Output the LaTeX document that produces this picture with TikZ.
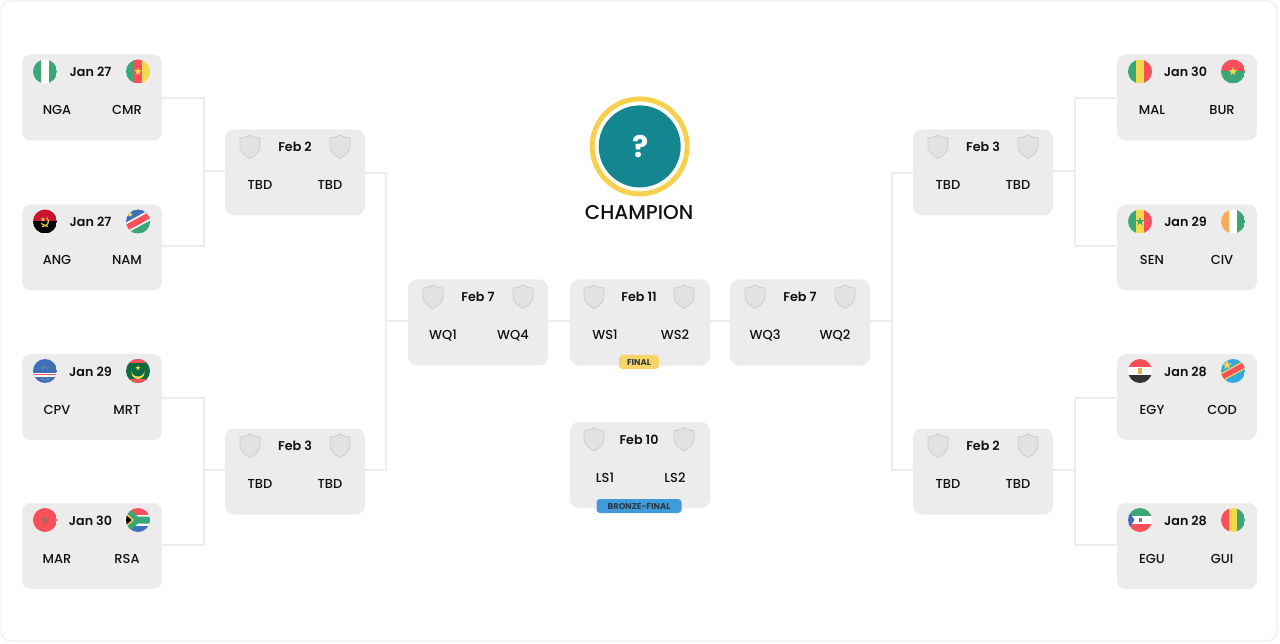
\documentclass[tikz,border=0pt]{standalone}
\usepackage{fontspec}
\setmainfont{Poppins}
\newfontfamily\teamfont{Poppins Medium}
\newfontfamily\datefont{Poppins SemiBold}
\usetikzlibrary{shapes.geometric}
\definecolor{cardgray}{HTML}{ECECEC}
\definecolor{linkgray}{HTML}{EDEDED}
\definecolor{inkblack}{HTML}{111111}
\definecolor{shieldfill}{HTML}{E2E2E2}
\definecolor{shieldline}{HTML}{CDCDCD}
\definecolor{flaggreen}{HTML}{3BA776}
\definecolor{flagred}{HTML}{F9505A}
\definecolor{flagyellow}{HTML}{F2D94E}
\definecolor{flagorange}{HTML}{FBAA55}
\definecolor{flagblue}{HTML}{3F6FB8}
\definecolor{flagsky}{HTML}{36A9E1}
\definecolor{flagdark}{HTML}{0F6B3E}
\definecolor{angred}{HTML}{C9142B}
\definecolor{teal}{HTML}{14868F}
\definecolor{ringyellow}{HTML}{F8CF4E}
\definecolor{finalyellow}{HTML}{F7D469}
\definecolor{bronzeblue}{HTML}{3F9BDC}
\definecolor{badgeink}{HTML}{2B3A45}
\definecolor{marstarcol}{HTML}{A8685A}
\tikzset{
  matchcard/.style={fill=cardgray,rounded corners=9pt,minimum width=140pt,minimum height=86pt,inner sep=0pt},
  datelabel/.style={font=\fontsize{12.7}{15}\datefont,text=inkblack,inner sep=0pt,text height=9pt,text depth=0pt},
  teamlabel/.style={font=\fontsize{13}{15}\teamfont,text=inkblack,inner sep=0pt,text height=9pt,text depth=0pt},
  badge/.style={rounded corners=3.5pt,inner sep=0pt,minimum height=14pt,text=badgeink,font=\fontsize{8.5}{10}\selectfont\bfseries,text height=6.5pt,text depth=0pt},
  link/.style={draw=linkgray,line width=1.5pt},
  flagstar/.style={star,star points=5,star point ratio=2.5,inner sep=0pt,minimum size=#1},
  flagstar/.default=8pt
}
\begin{document}
\begin{tikzpicture}[x=1pt,y=-1pt]
  \useasboundingbox (0,0) rectangle (1280,644);
  \draw [cardgray,line width=1pt,rounded corners=10pt] (1,1) rectangle (1277,641);
  % one card with its three labels
  \def\datex{-1.5}
  \def\matchcard#1#2#3#4#5#6{
    \begin{scope}[shift={(#2,#3)}]
      \node [matchcard] (#1) at (0,0) {};
      \node [datelabel] (#1date) at (\datex,-25.5) {#4};
      \node [teamlabel] (#1left) at (-35,12.5) {#5};
      \node [teamlabel] (#1right) at (35,12.5) {#6};
    \end{scope}}
  \def\flagpair#1#2#3#4{
    \begin{scope}[shift={(#1-47,#2-26)}]
      \clip (0,0) circle (12); #3
    \end{scope}
    \begin{scope}[shift={(#1+46,#2-26)}]
      \clip (0,0) circle (12); #4
    \end{scope}}
  \def\shieldmark{
    \draw [shieldline,fill=shieldfill,line width=.8pt] (0,-11.5) .. controls (3,-9.5) and (7,-8.5) .. (10,-8.5)
      -- (10,0) .. controls (10,5) and (5,9.5) .. (0,12) .. controls (-5,9.5) and (-10,5) .. (-10,0)
      -- (-10,-8.5) .. controls (-7,-8.5) and (-3,-9.5) .. (0,-11.5) -- cycle;}
  \def\shieldpair#1#2{
    \begin{scope}[shift={(#1-45,#2-26)}] \shieldmark \end{scope}
    \begin{scope}[shift={(#1+45,#2-26)}] \shieldmark \end{scope}}
  % flags
  \def\vbars#1#2#3{\fill [#1] (-12,-12) rectangle (-4,12); \fill [#2] (-4,-12) rectangle (4,12); \fill [#3] (4,-12) rectangle (12,12);}
  \def\hbars#1#2#3{\fill [#1] (-12,-12) rectangle (12,-4); \fill [#2] (-12,-4) rectangle (12,4); \fill [#3] (-12,4) rectangle (12,12);}
  \def\flagnga{\vbars{flaggreen}{white}{flaggreen}}
  \def\flagcmr{\vbars{flaggreen}{flagred}{flagyellow} \node [flagstar=8pt,fill=flagyellow] (cmrstar) at (0,0) {};}
  \def\flagang{\fill [angred] (-12,-12) rectangle (12,0); \fill [black] (-12,0) rectangle (12,12);
    \draw [flagyellow,line width=1.2pt] (-3,5) .. controls (3,5) and (5,0) .. (2,-4);
    \draw [flagyellow,line width=1pt] (-4,2) -- (3,5);
    \node [flagstar=5pt,fill=flagyellow] (angstar) at (-2,-2) {};}
  \def\flagnam{\fill [flagblue] (-12,-12) rectangle (12,12);
    \fill [flaggreen] (-14,13.2) -- (14,-2.2) -- (14,14) -- cycle;
    \fill [white] (-14,13.2) -- (14,-2.2) -- (14,-13.2) -- (-14,2.2) -- cycle;
    \fill [flagred] (-14,11.2) -- (14,-4.2) -- (14,-11.2) -- (-14,4.2) -- cycle;
    \fill [flagyellow] (-8,-7) circle (2);}
  \def\flagcpv{\fill [flagblue] (-12,-12) rectangle (12,12);
    \fill [white] (-12,1.5) rectangle (12,5.5); \fill [flagred] (-12,2.8) rectangle (12,4.2);
    \fill [flagyellow!60!white] (-3,-3) circle (.6) (3,-3) circle (.6) (0,-4) circle (.6) (-3,8) circle (.6) (3,8) circle (.6) (0,9) circle (.6);}
  \def\flagmrt{\fill [flagdark] (-12,-12) rectangle (12,12);
    \fill [flagred] (-12,-12) rectangle (12,-8); \fill [flagred] (-12,8) rectangle (12,12);
    \fill [flagyellow] (0,1.5) circle (6.5); \fill [flagdark] (0,-1) circle (6.5);
    \node [flagstar=5pt,fill=flagyellow] (mrtstar) at (0,-3) {};}
  \def\flagmar{\fill [flagred] (-12,-12) rectangle (12,12); \node [flagstar=10pt,fill=marstarcol] (marstar) at (0,0) {};}
  \def\flagrsa{\fill [flagred] (-12,-12) rectangle (12,0); \fill [flagblue] (-12,0) rectangle (12,12);
    \fill [white] (-12,-5.5) rectangle (12,5.5);
    \fill [flaggreen] (-14,-12) -- (-9,-12) -- (0,-3.5) -- (14,-3.5) -- (14,3.5) -- (0,3.5) -- (-9,12) -- (-14,12) -- cycle;
    \fill [flagyellow] (-12,-7) -- (-4,0) -- (-12,7) -- cycle;
    \fill [black] (-12,-5) -- (-6.3,0) -- (-12,5) -- cycle;}
  \def\flagmal{\vbars{flaggreen}{flagyellow}{flagred}}
  \def\flagbur{\fill [flagred] (-12,-12) rectangle (12,0); \fill [flaggreen] (-12,0) rectangle (12,12);
    \node [flagstar=9pt,fill=flagyellow] (burstar) at (0,0) {};}
  \def\flagsen{\vbars{flaggreen}{flagyellow}{flagred} \node [flagstar=9pt,fill=flaggreen] (senstar) at (0,0) {};}
  \def\flagciv{\vbars{flagorange}{white}{flaggreen}}
  \def\flagegy{\fill [flagred] (-12,-12) rectangle (12,-4); \fill [white] (-12,-4) rectangle (12,4); \fill [black!80] (-12,4) rectangle (12,12);
    \fill [flagyellow!60!brown] (-2,-3) rectangle (2,3);}
  \def\flagcod{\fill [flagsky] (-12,-12) rectangle (12,12);
    \fill [flagyellow] (-14,12.2) -- (14,-3.2) -- (14,-12.2) -- (-14,3.2) -- cycle;
    \fill [flagred] (-14,10.7) -- (14,-4.7) -- (14,-10.7) -- (-14,4.7) -- cycle;
    \node [flagstar=10pt,fill=flagyellow] (codstar) at (-6,-6) {};}
  \def\flagegu{\hbars{flaggreen}{white}{flagred}
    \fill [flagblue] (-12,-10) -- (-5.5,0) -- (-12,10) -- cycle;
    \fill [black!50] (-1.5,-2) rectangle (1.5,2);}
  \def\flaggui{\vbars{flagred}{flagyellow}{flaggreen}}
  % round of 16
  \matchcard{nga}{92}{97.5}{Jan 27}{NGA}{CMR} \flagpair{92}{97.5}{\flagnga}{\flagcmr}
  \matchcard{ang}{92}{247.5}{Jan 27}{ANG}{NAM} \flagpair{92}{247.5}{\flagang}{\flagnam}
  \matchcard{cpv}{92}{397}{Jan 29}{CPV}{MRT} \flagpair{92}{397}{\flagcpv}{\flagmrt}
  \matchcard{mar}{92}{546}{Jan 30}{MAR}{RSA} \flagpair{92}{546}{\flagmar}{\flagrsa}
  \matchcard{mal}{1187}{97.5}{Jan 30}{MAL}{BUR} \flagpair{1187}{97.5}{\flagmal}{\flagbur}
  \matchcard{sen}{1187}{247.5}{Jan 29}{SEN}{CIV} \flagpair{1187}{247.5}{\flagsen}{\flagciv}
  \matchcard{egy}{1187}{397}{Jan 28}{EGY}{COD} \flagpair{1187}{397}{\flagegy}{\flagcod}
  \matchcard{egu}{1187}{546}{Jan 28}{EGU}{GUI} \flagpair{1187}{546}{\flagegu}{\flaggui}
  % later rounds
  \def\datex{0}
  \matchcard{qfa}{295}{172.5}{Feb 2}{TBD}{TBD} \shieldpair{295}{172.5}
  \matchcard{qfb}{295}{471.5}{Feb 3}{TBD}{TBD} \shieldpair{295}{471.5}
  \matchcard{qfc}{983}{172.5}{Feb 3}{TBD}{TBD} \shieldpair{983}{172.5}
  \matchcard{qfd}{983}{471.5}{Feb 2}{TBD}{TBD} \shieldpair{983}{471.5}
  \matchcard{sfa}{478}{322.5}{Feb 7}{WQ1}{WQ4} \shieldpair{478}{322.5}
  \matchcard{sfb}{800}{322.5}{Feb 7}{WQ3}{WQ2} \shieldpair{800}{322.5}
  \def\datex{-1}
  \matchcard{final}{640}{322.5}{Feb 11}{WS1}{WS2} \shieldpair{639}{322.5}
  \matchcard{bronze}{640}{465}{Feb 10}{LS1}{LS2} \shieldpair{639}{465}
  \node [badge,fill=finalyellow,minimum width=40pt] (finalbadge) at (639,362) {FINAL};
  \node [badge,fill=bronzeblue,minimum width=85pt] (bronzebadge) at (639,506) {BRONZE-FINAL};
  % joints of the bracket
  \coordinate (ja) at (204,171);
  \coordinate (jb) at (204,470);
  \coordinate (jc) at (386,321);
  \coordinate (jd) at (1075,171);
  \coordinate (je) at (1075,470);
  \coordinate (jf) at (892,321);
  \draw [link] ([yshift=-.5pt]nga.east) -| (ja);
  \draw [link] ([yshift=1.5pt]ang.east) -| (ja);
  \draw [link] (ja) -- (ja -| qfa.west);
  \draw [link] ([yshift=-1pt]cpv.east) -| (jb);
  \draw [link] ([yshift=1pt]mar.east) -| (jb);
  \draw [link] (jb) -- (jb -| qfb.west);
  \draw [link] ([yshift=-.5pt]qfa.east) -| (jc);
  \draw [link] ([yshift=1.5pt]qfb.east) -| (jc);
  \draw [link] (jc) -- (jc -| sfa.west);
  \draw [link] (sfa.east |- jc) -- (final.west |- jc);
  \draw [link] (final.east |- jc) -- (sfb.west |- jc);
  \draw [link] ([yshift=-.5pt]mal.west) -| (jd);
  \draw [link] ([yshift=1.5pt]sen.west) -| (jd);
  \draw [link] (jd) -- (jd -| qfc.east);
  \draw [link] ([yshift=-1pt]egy.west) -| (je);
  \draw [link] ([yshift=1pt]egu.west) -| (je);
  \draw [link] (je) -- (je -| qfd.east);
  \draw [link] ([yshift=-.5pt]qfc.west) -| (jf);
  \draw [link] ([yshift=1.5pt]qfd.west) -| (jf);
  \draw [link] (jf) -- (jf -| sfb.east);
  % champion
  \node [circle,draw=ringyellow,line width=5pt,minimum size=95pt,inner sep=0pt] (ring) at (639.7,146.4) {};
  \node [circle,fill=teal,minimum size=82pt,inner sep=0pt,text=white,font=\fontsize{30}{32}\selectfont\bfseries] (disc) at (ring.center) {\hspace{2pt}?};
  \node [font=\fontsize{20}{23}\teamfont,text=inkblack,inner sep=0pt] (champion) at (639,212.5) {CHAMPION};
\end{tikzpicture}
\end{document}
